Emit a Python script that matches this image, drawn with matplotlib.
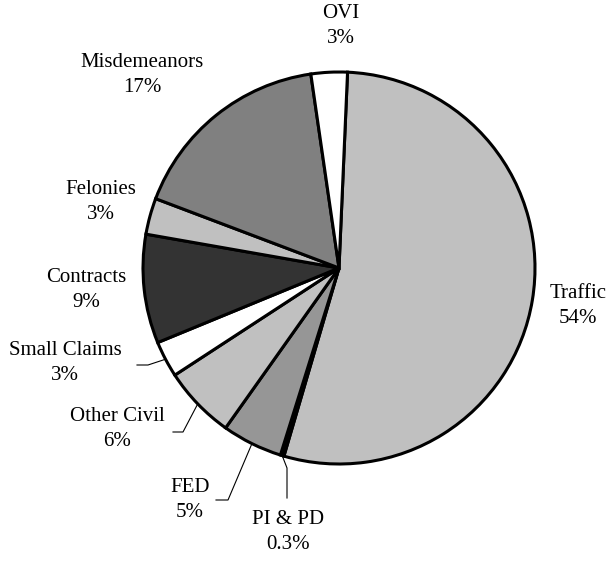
import numpy as np
import matplotlib
matplotlib.use("Agg")
from matplotlib import pyplot as plt

labels = ["Traffic", "PI & PD", "FED", "Other Civil", "Small Claims",
          "Contracts", "Felonies", "Misdemeanors", "OVI"]
values = [54, 0.3, 5, 6, 3, 9, 3, 17, 3]
pct_text = ["54%", "0.3%", "5%", "6%", "3%", "9%", "3%", "17%", "3%"]
colors = ["#c0c0c0", "#000000", "#969696", "#c0c0c0", "#ffffff",
          "#333333", "#c0c0c0", "#808080", "#ffffff"]

W, H = 608, 561
cx, cy, R = 339, 268, 196

plt.rcParams["font.family"] = ["Liberation Serif", "DejaVu Serif"]

fig = plt.figure(figsize=(W / 100, H / 100), dpi=100)
ax = fig.add_axes([0, 0, 1, 1])


def px(x, y):
    # pixel position (from top-left) -> data units
    return (x - cx) / R, (cy - y) / R


wedges, _ = ax.pie(values, colors=colors, startangle=87.5, counterclock=False,
                   radius=1, center=(0, 0),
                   wedgeprops=dict(edgecolor="black", linewidth=2.2))
ax.set_xlim(-cx / R, (W - cx) / R)
ax.set_ylim(-(H - cy) / R, cy / R)
ax.set_aspect("equal")
ax.axis("off")

# label block centres in pixels
pos = {
    "Traffic": (578, 306),
    "PI & PD": (288, 532),
    "FED": (190, 500),
    "Other Civil": (117, 429),
    "Small Claims": (65, 363),
    "Contracts": (86, 290),
    "Felonies": (101, 202),
    "Misdemeanors": (142, 75),
    "OVI": (341, 26),
}

for lab, pt in zip(labels, pct_text):
    x, y = px(*pos[lab])
    ax.text(x, y, lab + "\n" + pt, ha="center", va="center", fontsize=15,
            linespacing=1.45)


def edge(w):
    a = np.deg2rad((w.theta1 + w.theta2) / 2)
    return np.cos(a), np.sin(a)


# leader lines (pixel elbows)
leaders = {
    "Small Claims": [(137, 365), (148, 365)],
    "Other Civil": [(173, 432), (183, 432)],
    "FED": [(216, 500), (228, 500)],
    "PI & PD": [(287, 498), (287, 468)],
}
for lab, pts in leaders.items():
    w = wedges[labels.index(lab)]
    ex, ey = edge(w)
    xs = [px(*p)[0] for p in pts] + [ex]
    ys = [px(*p)[1] for p in pts] + [ey]
    ax.plot(xs, ys, color="black", linewidth=0.8)

fig.savefig("out.png", dpi=100)
